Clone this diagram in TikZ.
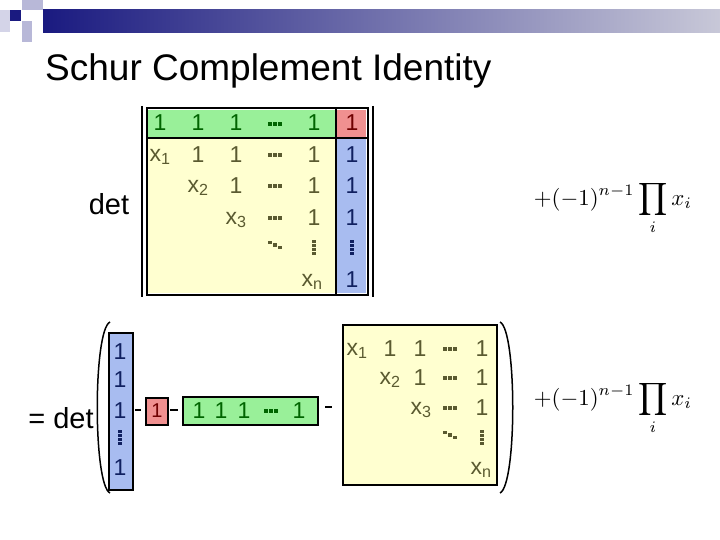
\documentclass[tikz,border=0pt]{standalone}
\usepackage{fontspec}
\setmainfont{Liberation Sans}
\definecolor{navy}{HTML}{1A1A80}
\definecolor{barlight}{HTML}{C8C8D8}
\definecolor{sq}{HTML}{B8B8D8}
\definecolor{gfill}{HTML}{99F099}
\definecolor{rfill}{HTML}{F09090}
\definecolor{bfill}{HTML}{A8BCF0}
\definecolor{yfill}{HTML}{FFFFD0}
\definecolor{gtext}{HTML}{006400}
\definecolor{ytext}{HTML}{5A5A30}
\definecolor{btext}{HTML}{102060}
\definecolor{rtext}{HTML}{700000}
\tikzset{
 cell/.style={font=\fontsize{23}{23}\selectfont, inner sep=0pt, anchor=center},
 hd/.pic={\foreach \i in {-5,0,5} \fill (\i-1.7,-1.7) rectangle (\i+1.7,1.7);},
 vd/.pic={\foreach \i in {-6,-2,2,6} \fill (-1.7,\i-1.5) rectangle (1.7,\i+1.5);},
 dd/.pic={\foreach \i in {-5,0,5} \fill (\i-1.7,\i/2-1.7) rectangle (\i+1.7,\i/2+1.7);},
 formula/.style={inner sep=0pt}
}
\newcommand{\schurterm}{\resizebox{158pt}{!}{$\displaystyle +(-1)^{n-1}\prod_i x_i$}}
\begin{document}
\begin{tikzpicture}[x=1pt,y=-1pt]
\useasboundingbox (0,0) rectangle (720,540);
% header
\shade[left color=navy, right color=barlight] (43,10) rectangle (720,33);
\fill[sq] (22,0) rectangle (43,10);
\fill[sq!60] (0,10) rectangle (10,32);
\fill[navy] (10,10) rectangle (21,21);
\fill[sq] (22,21) rectangle (32,42);
\node[anchor=base west, font=\fontsize{37}{37}\selectfont, inner sep=0pt] (title) at (45,81) {Schur Complement Identity};
% top matrix
\fill[gfill] (148,110) rectangle (335,137);
\fill[rfill] (337,110) rectangle (366,137);
\fill[bfill] (337,139) rectangle (366,293);
\fill[yfill] (148,139) rectangle (335,293);
\draw[black, line width=2.5pt] (147,108) rectangle (368,295);
\draw[black, line width=2.5pt] (147,138) -- (368,138) (336,108) -- (336,295);
\draw[black, line width=1.5pt] (142,106) -- (142,297) (373,106) -- (373,297);
\node[font=\fontsize{29}{29}\selectfont, inner sep=0pt] (det1) at (109,204) {det};
\begin{scope}[every node/.style={cell}]
\foreach \x/\n in {160/a,198/b,236/c,314/e} \node[text=gtext] (g\n) at (\x,123) {1};
\node[text=rtext] (r1) at (352,123) {1};
\foreach \y/\n in {155/1,186/2,218/3,280/5} \node[text=btext] (bc\n) at (352,\y) {1};
\node[text=ytext] (x1) at (160,157) {x\textsubscript{1}};
\node[text=ytext] (y12) at (198,155) {1};
\node[text=ytext] (y13) at (236,155) {1};
\node[text=ytext] (y15) at (314,155) {1};
\node[text=ytext] (x2) at (198,188) {x\textsubscript{2}};
\node[text=ytext] (y23) at (236,186) {1};
\node[text=ytext] (y25) at (314,186) {1};
\node[text=ytext] (x3) at (236,220) {x\textsubscript{3}};
\node[text=ytext] (y35) at (314,218) {1};
\node[text=ytext] (xn) at (312,282) {x\textsubscript{n}};
\end{scope}
\pic[gtext] at (275,124) {hd};
\foreach \y in {155,186,218} \pic[ytext] at (275,\y) {hd};
\pic[ytext] at (275,245) {dd};
\pic[ytext] at (314,247) {vd};
\pic[btext] at (352,247) {vd};
\node[formula] (f1) at (613,208) {\schurterm};
% bottom
\node[font=\fontsize{29}{29}\selectfont, inner sep=0pt] (det2) at (61,418) {= det};
\draw[line width=1.5pt] (110,322) .. controls (93,330) and (93,485) .. (110,493);
\draw[line width=1.5pt] (500,322) .. controls (517,330) and (517,485) .. (500,493);
\fill[bfill] (109,333) rectangle (133,490);
\draw[line width=2pt] (109,333) rectangle (133,490);
\begin{scope}[every node/.style={cell}]
\foreach \y/\n in {352/1,380/2,411/3,468/5} \node[text=btext] (bb\n) at (120,\y) {1};
\end{scope}
\pic[btext] at (120,437) {vd};
\fill[rfill] (146,398) rectangle (168,425);
\draw[line width=2pt] (146,398) rectangle (168,425);
\node[cell, text=rtext, font=\fontsize{20}{20}\selectfont] (r2) at (157,411) {1};
\draw[line width=1.5pt] (135,410) -- (141,410) (170,410) -- (178,410);
\fill[gfill] (183,397) rectangle (318,425);
\draw[line width=2pt] (183,397) rectangle (318,425);
\begin{scope}[every node/.style={cell, text=gtext}]
\node (h1) at (199,411) {1};
\node (h2) at (221,411) {1};
\node (h3) at (244,411) {1};
\node (h5) at (299,411) {1};
\end{scope}
\pic[gtext] at (271,411) {hd};
\draw[line width=1.5pt] (325,407) -- (332,407);
\fill[yfill] (343,325) rectangle (497,485);
\draw[line width=2pt] (343,325) rectangle (497,485);
\begin{scope}[every node/.style={cell, text=ytext}]
\node (z1) at (357,351) {x\textsubscript{1}};
\node at (390,349) {1};
\node at (420,349) {1};
\node at (482,349) {1};
\node (z2) at (390,380) {x\textsubscript{2}};
\node at (420,378) {1};
\node at (482,378) {1};
\node (z3) at (421,410) {x\textsubscript{3}};
\node at (482,408) {1};
\node (zn) at (481,470) {x\textsubscript{n}};
\end{scope}
\foreach \y in {349,378,408} \pic[ytext] at (450,\y) {hd};
\pic[ytext] at (450,435) {dd};
\pic[ytext] at (482,437) {vd};
\node[formula] (f2) at (613,408) {\schurterm};
\end{tikzpicture}
\end{document}
